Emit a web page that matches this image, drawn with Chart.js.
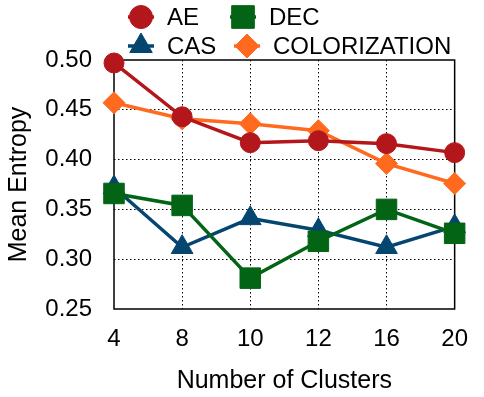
<!DOCTYPE html>
<html>
<head>
<meta charset="utf-8">
<script src="https://cdn.jsdelivr.net/npm/chart.js@4.4.1/dist/chart.umd.min.js"></script>
<style>
  html, body { margin: 0; padding: 0; background: #fff; }
  #wrap { width: 484px; height: 397px; }
</style>
</head>
<body>
<div id="wrap"><canvas id="entropyChart" width="484" height="397"></canvas></div>
<script>

// values
var clusters = ["4", "8", "10", "12", "16", "20"];
var aeValues = [0.497, 0.443, 0.417, 0.419, 0.416, 0.407];
var casValues = [0.372, 0.312, 0.341, 0.329, 0.312, 0.333];
var decValues = [0.366, 0.354, 0.281, 0.318, 0.350, 0.326];
var colorizationValues = [0.457, 0.441, 0.436, 0.429, 0.396, 0.376];
var yTicks = [0.25, 0.30, 0.35, 0.40, 0.45, 0.50];

var RED = '#b3171b';
var BLUE = '#04466f';
var GREEN = '#036416';
var ORANGE = '#ff6a1f';
var FONT = "'Liberation Sans', Arial, Helvetica, sans-serif";

function series(label, values, color, style, radius){
  return {
    label: label,
    data: values,
    borderColor: color,
    backgroundColor: color,
    borderWidth: 3.5,
    pointStyle: style,
    pointRadius: radius,
    pointHoverRadius: radius,
    pointBorderWidth: 1,
    pointBorderColor: color,
    pointBackgroundColor: color,
    tension: 0,
    clip: false
  };
}

// box round the plot area
var frame = {
  id: 'frame',
  beforeDatasetsDraw: function(chart){
    var a = chart.chartArea, ctx = chart.ctx;
    ctx.save();
    ctx.strokeStyle = '#000';
    ctx.lineWidth = 1.5;
    ctx.strokeRect(a.left, a.top, a.right - a.left, a.bottom - a.top);
    ctx.restore();
  }
};

// two-column legend above the plot
var legendItems = [
  {label: 'AE', color: RED, style: 'circle', r: 11.5, x: 141, y: 17},
  {label: 'DEC', color: GREEN, style: 'rect', r: 16, x: 243, y: 17},
  {label: 'CAS', color: BLUE, style: 'triangle', r: 13, x: 141, y: 46},
  {label: 'COLORIZATION', color: ORANGE, style: 'rectRot', r: 12, x: 247, y: 46}
];

var legend2 = {
  id: 'legend2',
  afterDraw: function(chart){
    var ctx = chart.ctx;
    ctx.save();
    legendItems.forEach(function(it){
      ctx.strokeStyle = it.color;
      ctx.lineWidth = 3.5;
      ctx.beginPath();
      ctx.moveTo(it.x - 13, it.y);
      ctx.lineTo(it.x + 13, it.y);
      ctx.stroke();
      ctx.fillStyle = it.color;
      ctx.lineWidth = 1;
      Chart.helpers.drawPoint(ctx, {pointStyle: it.style, radius: it.r, rotation: 0, borderWidth: 1}, it.x, it.y);
      ctx.fillStyle = '#000';
      ctx.font = '24px ' + FONT;
      ctx.textBaseline = 'middle';
      ctx.textAlign = 'left';
      ctx.fillText(it.label, it.x + 26, it.y + 1);
    });
    ctx.restore();
  }
};

function edgeGrid(ctx){
  var n = ctx.scale.ticks.length;
  if (ctx.index === 0 || ctx.index === n - 1) return 'rgba(0,0,0,0)';
  return '#000';
}

function init(){

  var ctx = document.getElementById('entropyChart').getContext('2d');
  var chart = new Chart(ctx, {

    type: 'line',

    data: {
      labels: clusters,
      datasets: [
        series('DEC', decValues, GREEN, 'rect', 14.5),
        series('AE', aeValues, RED, 'circle', 10),
        series('CAS', casValues, BLUE, 'triangle', 12.5),
        series('COLORIZATION', colorizationValues, ORANGE, 'rectRot', 11)
      ]
    },

    options: {
      responsive: false,
      animation: false,
      layout: { padding: { top: 60, right: 20, left: 0, bottom: 0 } },
      plugins: {
        legend: { display: false },
        tooltip: { enabled: false }
      },
      scales: {
        x: {
          type: 'category',
          offset: false,
          grid: { color: edgeGrid, lineWidth: 1, drawTicks: false },
          border: { display: false, dash: [1.5, 2.5] },
          ticks: { color: '#000', font: { family: FONT, size: 24 }, padding: 16, maxRotation: 0 },
          title: { display: true, text: 'Number of Clusters', color: '#000', font: { family: FONT, size: 25 }, padding: { top: 0, bottom: 1 } },
          afterFit: function(scale){ scale.height = 88; }
        },
        y: {
          min: 0.25,
          max: 0.5,
          afterBuildTicks: function(scale){
            scale.ticks = yTicks.map(function(v){ return {value: v}; });
          },
          grid: { color: edgeGrid, lineWidth: 1, drawTicks: false },
          border: { display: false, dash: [1.5, 2.5] },
          ticks: {
            color: '#000',
            font: { family: FONT, size: 24 },
            padding: 22,
            callback: function(v){ return Number(v).toFixed(2); }
          },
          title: { display: true, text: 'Mean Entropy', color: '#000', font: { family: FONT, size: 25 }, padding: { top: 4, bottom: 0 } },
          afterFit: function(scale){ scale.width = 114; }
        }
      }
    },

    plugins: [frame, legend2]
  });
}

init();
</script>
</body>
</html>
